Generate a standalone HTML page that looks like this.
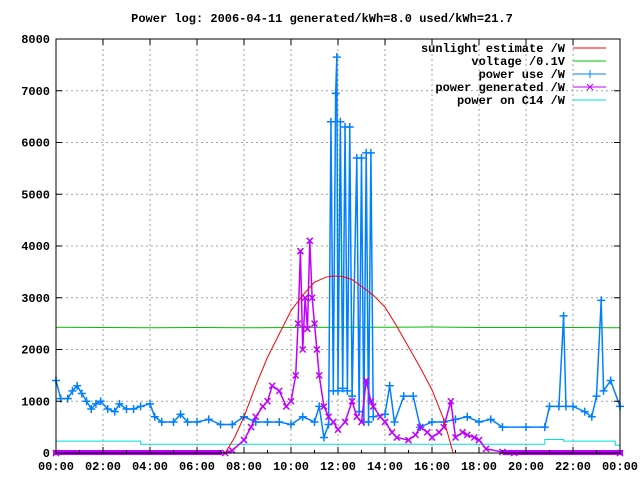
<!DOCTYPE html>
<html><head><meta charset="utf-8"><style>
body{margin:0;background:#fff}
svg text{font-family:"Liberation Mono",monospace;font-size:12px;font-weight:bold;fill:#000}
</style></head><body>
<svg id="chart" width="640" height="480" xmlns="http://www.w3.org/2000/svg">
<text x="322" y="22" text-anchor="middle">Power log: 2006-04-11 generated/kWh=8.0 used/kWh=21.7</text>
<g id="grid"></g>
<g id="series"></g>
<rect x="56" y="39" width="564" height="414" fill="none" stroke="#000" stroke-width="1"/>
<g id="axes"></g>
<g id="legend"></g>
</svg>
<script>
const xTickLabels=["00:00","02:00","04:00","06:00","08:00","10:00","12:00","14:00","16:00","18:00","20:00","22:00","00:00"];
const yTicks=[0,1000,2000,3000,4000,5000,6000,7000,8000];
const sunHours=[0,7.2,7.6,8,8.5,9,9.5,10,10.5,11,11.5,11.8,12.2,12.6,13,13.5,14,14.5,15,15.5,16,16.5,16.9,24];
const sunVals=[0,0,300,700,1300,1850,2300,2750,3050,3300,3400,3420,3410,3350,3220,3050,2820,2450,2050,1650,1220,650,0,0];
const voltHours=[0,2,4,6,8,10,12,14,16,18,20,22,24];
const voltVals=[2430,2425,2420,2425,2420,2425,2430,2430,2435,2425,2425,2425,2420];
const c14Hours=[0,3.6,3.6,20.8,20.8,21.6,21.6,23.8,23.8,24];
const c14Vals=[230,230,170,170,260,260,230,230,150,150];
const useHours=[0,0.2,0.5,0.7,0.9,1.1,1.3,1.5,1.7,1.9,2.2,2.5,2.7,3,3.3,3.6,4,4.2,4.5,5,5.3,5.6,6,6.5,7,7.5,8,8.5,9,9.5,10,10.5,11,11.2,11.4,11.6,11.7,11.8,11.9,11.95,12,12.1,12.2,12.3,12.4,12.5,12.6,12.8,12.9,13,13.1,13.2,13.3,13.4,13.5,14,14.2,14.4,14.8,15.2,15.5,16,16.5,17,17.5,18,18.5,19,20,20.8,21,21.4,21.6,21.7,22,22.5,22.8,23,23.2,23.3,23.6,24];
const useVals=[1400,1050,1050,1200,1300,1150,1000,850,950,1000,850,800,950,850,850,900,950,700,600,600,750,600,600,650,550,550,700,600,600,600,550,700,600,900,300,550,6400,1200,6950,7650,1200,6400,1250,6300,1200,6300,1100,5700,800,5700,600,5800,600,5800,700,750,1300,600,1100,1100,500,600,600,650,700,600,650,500,500,500,900,900,2650,900,900,800,700,1100,2950,1200,1400,900];
const genHours=[0,7.2,7.5,8,8.3,8.5,8.8,9,9.2,9.5,9.8,10,10.2,10.3,10.4,10.5,10.6,10.7,10.8,10.9,11,11.1,11.2,11.4,11.6,11.8,12,12.3,12.6,12.8,13,13.2,13.4,13.5,13.8,14,14.3,14.5,15,15.3,15.5,15.8,16,16.3,16.5,16.8,17,17.3,17.5,17.8,18,18.3,19,19.5,24];
const genVals=[0,0,50,250,500,700,900,1000,1300,1200,900,1000,1500,2500,3900,2000,3000,2400,4100,3000,2500,2000,1500,900,700,600,450,600,1000,700,600,1400,1000,900,700,600,400,300,250,350,500,400,300,400,500,1000,300,400,350,300,250,80,20,0,0];
const X=h=>56+h*23.5, Y=v=>453-v*0.05175;
const NS="http://www.w3.org/2000/svg";
function el(t,a,p){const e=document.createElementNS(NS,t);for(const k in a)e.setAttribute(k,a[k]);document.getElementById(p).appendChild(e);return e;}
xTickLabels.forEach((l,i)=>{const x=X(i*2);
 if(i>0&&i<12){const g=el('line',{x1:x,x2:x,y1:39,y2:453,stroke:'#a0a0a0','stroke-dasharray':'2,3'},'grid');
 
 }
 const t=el('text',{x:x,y:470,'text-anchor':'middle'},'axes');t.textContent=l;
 
 
 el('line',{x1:x,x2:x,y1:453,y2:447,stroke:'#000'},'axes');
 el('line',{x1:x,x2:x,y1:39,y2:45,stroke:'#000'},'axes');
 if(i<12){el('line',{x1:X(i*2+1),x2:X(i*2+1),y1:453,y2:450,stroke:'#000'},'axes');}
});
yTicks.forEach(v=>{const y=Y(v);
 if(v>0&&v<8000){const g=el('line',{x1:56,x2:620,y1:y,y2:y,stroke:'#a0a0a0','stroke-dasharray':'2,3'},'grid');
 
 }
 const t=el('text',{x:50,y:y+4,'text-anchor':'end'},'axes');t.textContent=v;
 
 
 el('line',{x1:56,x2:62,y1:y,y2:y,stroke:'#000'},'axes');
 el('line',{x1:614,x2:620,y1:y,y2:y,stroke:'#000'},'axes');
});
function line(hs,vs,color,name,w){const p=el('polyline',{points:hs.map((h,i)=>X(h)+','+Y(vs[i])).join(' '),fill:'none',stroke:color,'stroke-width':w||1},'series');
 
 }
function marks(hs,vs,color,type,name){hs.forEach((h,i)=>{const x=X(h),y=Y(vs[i]);
 const d=type==='+'?`M${x-4},${y}H${x+4}M${x},${y-4}V${y+4}`:`M${x-3},${y-3}L${x+3},${y+3}M${x-3},${y+3}L${x+3},${y-3}`;
 const m=el('path',{d:d,stroke:color,'stroke-width':1.5,fill:'none'},'series');
 
 });}
line(voltHours,voltVals,'#00c000','voltage-line');
line(c14Hours,c14Vals,'#00e0e0','c14-power-line');
line(useHours,useVals,'#0080ff','power-use-line',1.5);
marks(useHours,useVals,'#0080ff','+','power-use-point');
line(genHours,genVals,'#c000ff','power-generated-line',1.5);
marks(genHours,genVals,'#c000ff','x','power-generated-point');
el('rect',{x:X(0)-3,y:450,width:X(7.2)-X(0),height:5,fill:'#c000ff'},'series');
el('rect',{x:X(19),y:450,width:X(24)-X(19)+3,height:5,fill:'#c000ff'},'series');
line(sunHours,sunVals,'#ff0000','sunlight-line');
const legendNames=["sunlight estimate /W","voltage /0.1V","power use /W","power generated /W","power on C14 /W"];
const legendColors=['#ff0000','#00c000','#0080ff','#c000ff','#00e0e0'];
legendNames.forEach((n,i)=>{const y=48+i*13;
 const t=el('text',{x:565,y:y+4,'text-anchor':'end'},'legend');t.textContent=n;
 
 
 const l=el('line',{x1:573,x2:606,y1:y,y2:y,stroke:legendColors[i]},'legend');
 
 
 if(i===2)el('path',{d:`M585,${y}H595M590,${y-4}V${y+4}`,stroke:legendColors[i]},'legend');
 if(i===3)el('path',{d:`M587,${y-3}L593,${y+3}M587,${y+3}L593,${y-3}`,stroke:legendColors[i]},'legend');
});
</script>
</body></html>
